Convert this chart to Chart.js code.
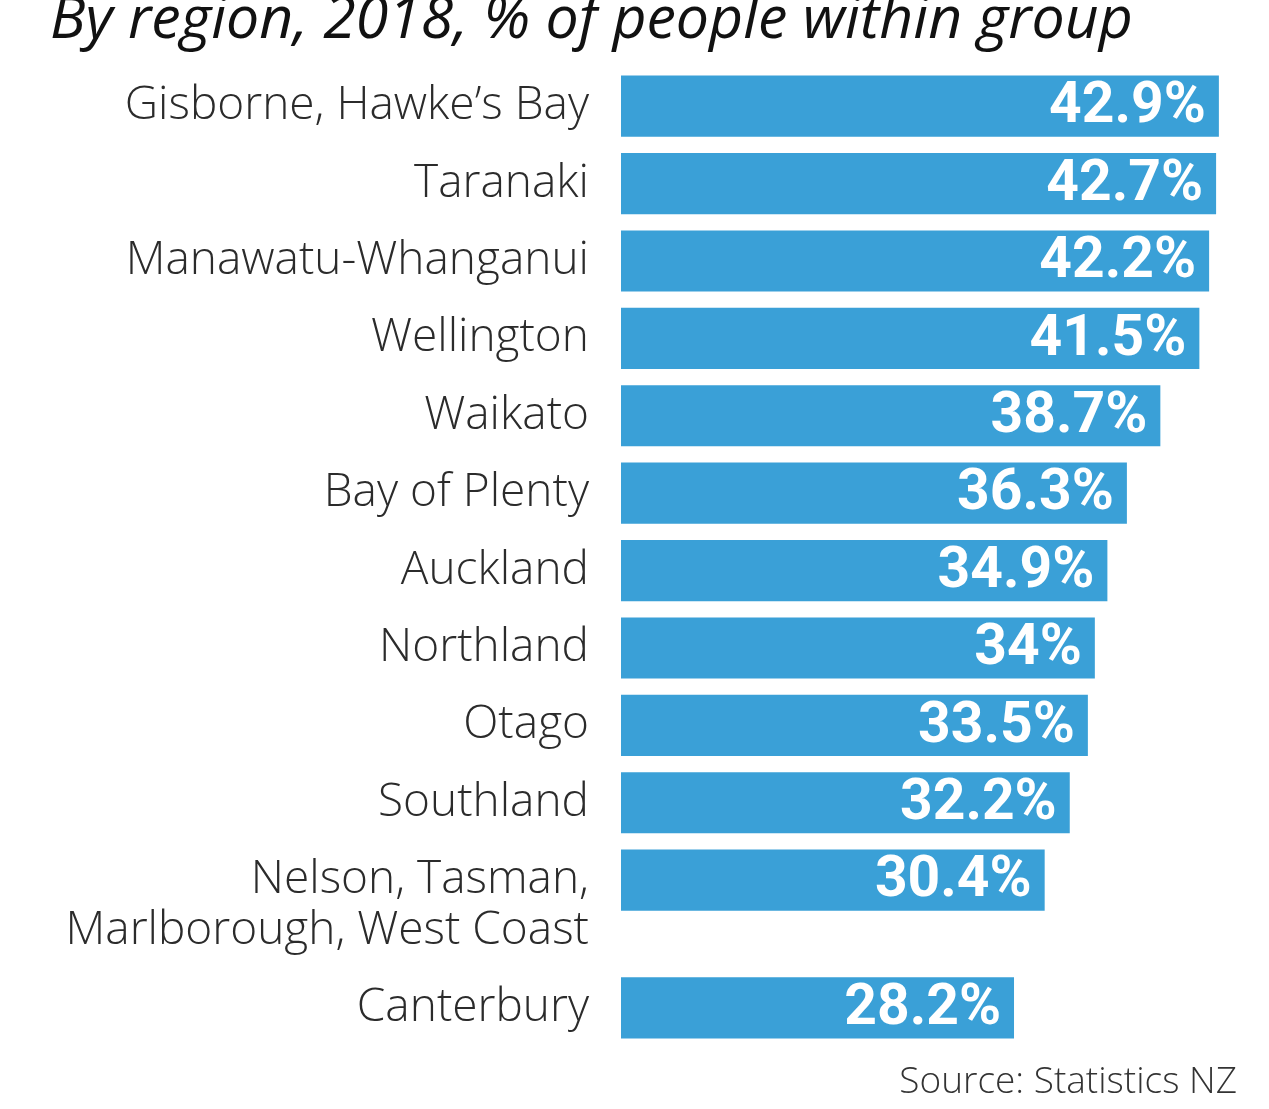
<!DOCTYPE HTML>
<html>
<head>
<script src="https://cdn.jsdelivr.net/npm/chart.js@4.4.1/dist/chart.umd.min.js"></script>
<style>
body { margin: 0; background: #ffffff; }
</style>
</head>
<body>
<canvas id="myChart" width="1269" height="1109"></canvas>
<script>

// chart data
var regions = [
	["Gisborne, Hawke\u2019s Bay"],
	["Taranaki"],
	["Manawatu-Whanganui"],
	["Wellington"],
	["Waikato"],
	["Bay of Plenty"],
	["Auckland"],
	["Northland"],
	["Otago"],
	["Southland"],
	["Nelson, Tasman,", "Marlborough, West Coast"],
	["Canterbury"]
];
var shares = [42.9, 42.7, 42.2, 41.5, 38.7, 36.3, 34.9, 34, 33.5, 32.2, 30.4, 28.2];
var titleText = "By region, 2018, % of people within group";
var sourceText = "Source: Statistics NZ";

var barColor = "#3aa0d7";
var lineGap = 0.65; // extra row space per extra label line

// row positions: a two-line label pushes the next row down
var rowPos = [];
var labelPos = [];
var p = 0;
for (var i = 0; i < regions.length; i++) {
	rowPos.push(p);
	labelPos.push(p + (regions[i].length - 1) * lineGap / 2);
	p += 1 + (regions[i].length - 1) * lineGap;
}

var points = [];
for (var i = 0; i < shares.length; i++) {
	points.push({x: shares[i], y: rowPos[i]});
}

// white value labels at the end of each bar
var valueLabels = {
	id: 'valueLabels',
	afterDatasetsDraw: function(chart) {
		var ctx = chart.ctx;
		var meta = chart.getDatasetMeta(0);
		ctx.save();
		ctx.fillStyle = "#ffffff";
		ctx.font = "bold 57px Roboto";
		ctx.textAlign = "right";
		ctx.textBaseline = "middle";
		meta.data.forEach(function(bar, i) {
			ctx.fillText(shares[i] + "%", bar.x - 13, bar.y + 2);
		});
		ctx.restore();
	}
};

var ctx = document.getElementById("myChart").getContext("2d");
var myChart = new Chart(ctx, {
	type: 'bar',
	data: {
		datasets: [{
			data: points,
			backgroundColor: barColor,
			borderWidth: 0,
			categoryPercentage: 1,
			barPercentage: 0.79
		}]
	},
	options: {
		responsive: false,
		animation: false,
		indexAxis: 'y',
		layout: {padding: {left: 50, right: 32, top: 0, bottom: 0}},
		plugins: {
			legend: {display: false},
			tooltip: {enabled: false},
			title: {
				display: true,
				text: titleText,
				align: 'start',
				color: '#111111',
				font: {family: 'Open Sans', size: 59, style: 'italic', weight: '500', lineHeight: 0.72},
				padding: {top: 0, bottom: 25}
			},
			subtitle: {
				display: true,
				text: sourceText,
				position: 'bottom',
				align: 'end',
				color: '#333333',
				font: {family: 'Open Sans', size: 37, weight: '300', lineHeight: 1.2},
				padding: {top: 14, bottom: 4}
			}
		},
		scales: {
			x: {
				type: 'linear',
				min: 0,
				max: 44.2,
				display: false
			},
			y: {
				type: 'linear',
				reverse: true,
				offset: false,
				min: -0.5,
				max: rowPos[rowPos.length - 1] + 0.5,
				grid: {display: false, drawTicks: false},
				border: {display: false},
				afterBuildTicks: function(axis) {
					axis.ticks = labelPos.map(function(v) { return {value: v}; });
				},
				afterFit: function(axis) {
					axis.width = 571;
					axis.paddingTop = 0;
					axis.paddingBottom = 0;
				},
				ticks: {
					autoSkip: false,
					padding: 32,
					color: '#2b2b2b',
					font: {family: 'Open Sans', size: 46, weight: '300', lineHeight: 1.1},
					callback: function(value, index) {
						return regions[index];
					}
				}
			}
		}
	},
	plugins: [valueLabels]
});

</script>
</body>
</html>
